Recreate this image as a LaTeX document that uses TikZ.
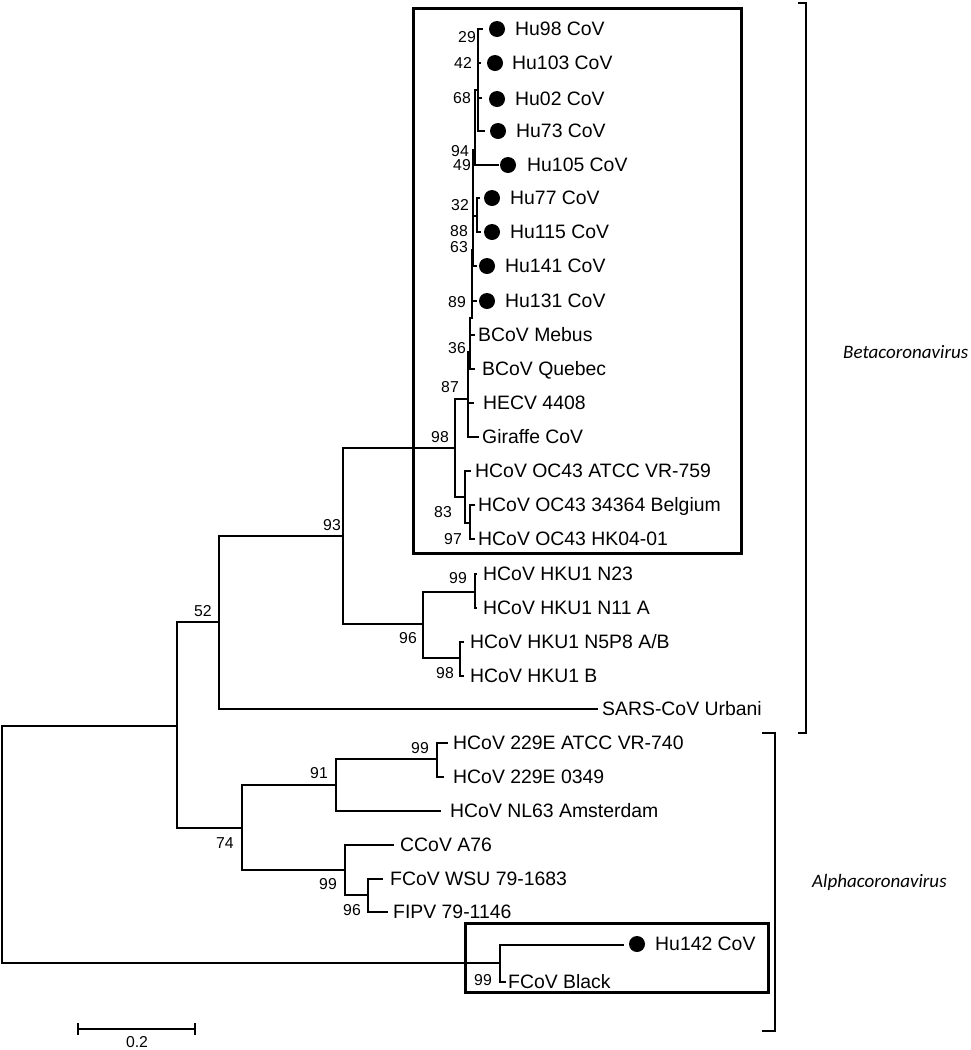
\documentclass[tikz,border=0pt]{standalone}
\usepackage{fontspec}
\setmainfont{Liberation Sans}
\newfontfamily\cladefont{Carlito}
\tikzset{
    branch/.style = {line width=2pt, line cap=rect},
    taxon/.style = {anchor=west, inner sep=0pt, text height=13.8pt, text depth=0pt, font=\fontsize{19.4}{22}\selectfont},
    boot/.style = {inner sep=0pt, text height=11.2pt, text depth=0pt, font=\fontsize{15.8}{18}\selectfont},
    isolate/.style = {fill=black, circle, minimum size=16pt, inner sep=0pt},
    frame/.style = {draw, line width=3pt},
    clade/.style = {line width=2pt},
    clade-name/.style = {anchor=west, inner sep=0pt, font=\cladefont\itshape\fontsize{19}{22}\selectfont},
}

\begin{document}
\begin{tikzpicture}[x=1pt, y=-1pt]
\useasboundingbox (0,0) rectangle (971,1050);

% internal nodes
\coordinate (r)    at (2,845);
\coordinate (nA)   at (177,726);
\coordinate (nB)   at (219,622);
\coordinate (n93)  at (343,536);
\coordinate (n98)  at (455,448);
\coordinate (n87)  at (468,399);
\coordinate (n36)  at (470,352);
\coordinate (n89)  at (472,318);
\coordinate (n63)  at (473,250);
\coordinate (n88)  at (477,216);
\coordinate (n94)  at (475,150);
\coordinate (n42)  at (478,90);
\coordinate (nOC)  at (465,497);
\coordinate (n83)  at (470,523);
\coordinate (nHKU) at (423,624);
\coordinate (nN23) at (475,592);
\coordinate (nN5)  at (460,658);
\coordinate (n74)  at (242,828);
\coordinate (n91)  at (336,785);
\coordinate (n229) at (437,759);
\coordinate (nCC)  at (345,870);
\coordinate (nFC)  at (368,895);
\coordinate (nH)   at (500,963);

% branch tips
\coordinate (t98)  at (482,29);
\coordinate (t103) at (480,63);
\coordinate (t02)  at (481,98);
\coordinate (t73)  at (484,131);
\coordinate (t105) at (498,165);
\coordinate (t77)  at (479,198);
\coordinate (t115) at (480,232);
\coordinate (t141) at (476,266);
\coordinate (t131) at (476,301);
\coordinate (tMeb) at (474,335);
\coordinate (tQue) at (474,369);
\coordinate (tHEC) at (473,403);
\coordinate (tGir) at (478,437);
\coordinate (tATC) at (470,471);
\coordinate (tBel) at (474,505);
\coordinate (tHK)  at (474,539);
\coordinate (tN23) at (476,574);
\coordinate (tN11) at (476,608);
\coordinate (tN5)  at (463,642);
\coordinate (tB)   at (463,676);
\coordinate (tSAR) at (597,709);
\coordinate (tATV) at (447,743);
\coordinate (t349) at (443,777);
\coordinate (tNL)  at (440,811);
\coordinate (tCC)  at (393,845);
\coordinate (tWSU) at (382,879);
\coordinate (tFIP) at (387,912);
\coordinate (t142) at (623,945);
\coordinate (tBla) at (505,982);

% branches
\draw[branch] (r) |- (nA) (r) |- (nH);
\draw[branch] (nA) |- (nB) (nA) |- (n74);
\draw[branch] (nB) |- (n93) (nB) |- (tSAR);
\draw[branch] (n93) |- (n98) (n93) |- (nHKU);
\draw[branch] (n98) |- (n87) (n98) |- (nOC);
\draw[branch] (n87) |- (n36) (n87) |- (tHEC) (n87) |- (tGir);
\draw[branch] (n36) |- (n89) (n36) |- (tMeb) (n36) |- (tQue);
\draw[branch] (n89) |- (n63) (n89) |- (t131);
\draw[branch] (n63) |- (n94) (n63) |- (n88) (n63) |- (t141);
\draw[branch] (n88) |- (t77) (n88) |- (t115);
\draw[branch] (n94) |- (n42) (n94) |- (t105);
\draw[branch] (n42) |- (t98) (n42) |- (t103) (n42) |- (t02) (n42) |- (t73);
\draw[branch] (nOC) |- (tATC) (nOC) |- (n83);
\draw[branch] (n83) |- (tBel) (n83) |- (tHK);
\draw[branch] (nHKU) |- (nN23) (nHKU) |- (nN5);
\draw[branch] (nN23) |- (tN23) (nN23) |- (tN11);
\draw[branch] (nN5) |- (tN5) (nN5) |- (tB);
\draw[branch] (n74) |- (n91) (n74) |- (nCC);
\draw[branch] (n91) |- (n229) (n91) |- (tNL);
\draw[branch] (n229) |- (tATV) (n229) |- (t349);
\draw[branch] (nCC) |- (tCC) (nCC) |- (nFC);
\draw[branch] (nFC) |- (tWSU) (nFC) |- (tFIP);
\draw[branch] (nH) |- (t142) (nH) |- (tBla);

% isolates of this study
\node[isolate] (d98)  at (497,29) {};
\node[isolate] (d103) at (495,63) {};
\node[isolate] (d02)  at (497,99) {};
\node[isolate] (d73)  at (498,131) {};
\node[isolate] (d105) at (508,165) {};
\node[isolate] (d77)  at (492,198) {};
\node[isolate] (d115) at (492,232) {};
\node[isolate] (d141) at (487,266) {};
\node[isolate] (d131) at (487,301) {};
\node[isolate] (d142) at (637,944) {};

% taxa
\node[taxon] (l98)  at (515,29) {Hu98 CoV};
\node[taxon] (l103) at (512,63) {Hu103 CoV};
\node[taxon] (l02)  at (515,99) {Hu02 CoV};
\node[taxon] (l73)  at (516,131) {Hu73 CoV};
\node[taxon] (l105) at (527,165) {Hu105 CoV};
\node[taxon] (l77)  at (510,198) {Hu77 CoV};
\node[taxon] (l115) at (510,232) {Hu115 CoV};
\node[taxon] (l141) at (505,266) {Hu141 CoV};
\node[taxon] (l131) at (505,301) {Hu131 CoV};
\node[taxon] (lMeb) at (478,335) {BCoV Mebus};
\node[taxon] (lQue) at (482,369) {BCoV Quebec};
\node[taxon] (lHEC) at (483,403) {HECV 4408};
\node[taxon] (lGir) at (482,437) {Giraffe CoV};
\node[taxon] (lATC) at (475,471) {HCoV OC43 ATCC VR-759};
\node[taxon] (lBel) at (478,505) {HCoV OC43 34364 Belgium};
\node[taxon] (lHK)  at (478,539) {HCoV OC43 HK04-01};
\node[taxon] (lN23) at (483,574) {HCoV HKU1 N23};
\node[taxon] (lN11) at (483,608) {HCoV HKU1 N11 A};
\node[taxon] (lN5)  at (470,642) {HCoV HKU1 N5P8 A/B};
\node[taxon] (lB)   at (470,676) {HCoV HKU1 B};
\node[taxon] (lSAR) at (602,709) {SARS-CoV Urbani};
\node[taxon] (lATV) at (453,743) {HCoV 229E ATCC VR-740};
\node[taxon] (l349) at (453,777) {HCoV 229E 0349};
\node[taxon] (lNL)  at (450,811) {HCoV NL63 Amsterdam};
\node[taxon] (lCC)  at (400,845) {CCoV A76};
\node[taxon] (lWSU) at (390,879) {FCoV WSU 79-1683};
\node[taxon] (lFIP) at (393,912) {FIPV 79-1146};
\node[taxon] (l142) at (655,944) {Hu142 CoV};
\node[taxon] (lBla) at (508,982) {FCoV Black};

% bootstrap values
\node[boot] (b29)  at (467,37) {29};
\node[boot] (b42)  at (463,63) {42};
\node[boot] (b68)  at (462,98) {68};
\node[boot] (b94)  at (460,151) {94};
\node[boot] (b49)  at (462,165) {49};
\node[boot] (b32)  at (460,205) {32};
\node[boot] (b88)  at (459,231) {88};
\node[boot] (b63)  at (459,247) {63};
\node[boot] (b89)  at (457,302) {89};
\node[boot] (b36)  at (457,348) {36};
\node[boot] (b87)  at (450,387) {87};
\node[boot] (b98)  at (440,437) {98};
\node[boot] (b83)  at (443,512) {83};
\node[boot] (b97)  at (453,539) {97};
\node[boot] (b93)  at (332,525) {93};
\node[boot] (b52)  at (203,611) {52};
\node[boot] (b99a) at (458,578) {99};
\node[boot] (b96a) at (408,638) {96};
\node[boot] (b98b) at (445,673) {98};
\node[boot] (b99b) at (420,748) {99};
\node[boot] (b91)  at (319,773) {91};
\node[boot] (b74)  at (225,843) {74};
\node[boot] (b99c) at (328,884) {99};
\node[boot] (b96b) at (352,910) {96};
\node[boot] (b99d) at (483,980) {99};

% boxes around the clusters
\draw[frame] (413,8) rectangle (741,553);
\draw[frame] (465,923) rectangle (768,992);

% genus brackets
\draw[clade] (798,3) -- (806,3) -- (806,733) -- (798,733);
\draw[clade] (762,733) -- (775,733) -- (775,1031) -- (762,1031);
\node[clade-name] (beta)  at (843,352) {Betacoronavirus};
\node[clade-name] (alpha) at (812,882) {Alphacoronavirus};

% scale bar
\coordinate (s0) at (78,1029);
\coordinate (s1) at (195,1029);
\draw[line width=2pt] (s0) -- (s1);
\draw[line width=2pt] ([yshift=-6pt]s0) -- ([yshift=6pt]s0);
\draw[line width=2pt] ([yshift=-6pt]s1) -- ([yshift=6pt]s1);
\node[boot] (scale) at (137,1042) {0.2};
\end{tikzpicture}
\end{document}
